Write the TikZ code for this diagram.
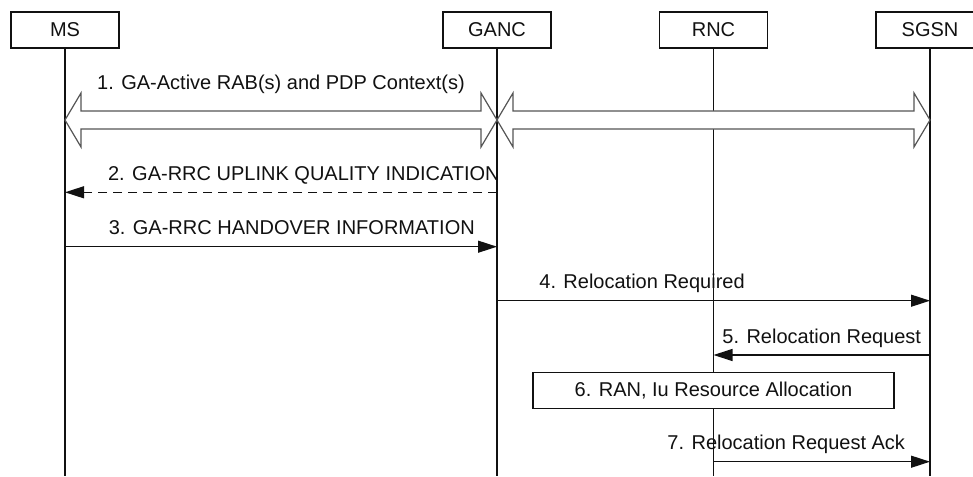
\documentclass[tikz,border=0pt]{standalone}
\usepackage{fontspec}
\setmainfont{Liberation Sans}
\setsansfont{Liberation Sans}
\usetikzlibrary{arrows.meta,positioning,calc}
\definecolor{seqInk}{HTML}{111111}
\definecolor{seqLine}{HTML}{555555}
\tikzset{
    >={Triangle[length=9.5pt,width=6pt]},
    every picture/.style={font=\sffamily},
    entity/.style={draw=seqInk, line width=0.6pt, fill=white, minimum width=54pt, minimum height=18pt, inner sep=0pt, text=seqInk},
    procbox/.style={draw=seqInk, line width=0.6pt, fill=white, minimum width=180.5pt, minimum height=18pt, inner sep=0pt, text=seqInk},
    lifeline/.style={line width=0.6pt, draw=seqInk},
    msgarrow/.style={->, line width=0.6pt, draw=seqInk},
    replyarrow/.style={->, line width=0.6pt, draw=seqInk, dash pattern=on 4.5pt off 3pt},
    bigarrow/.style={draw=seqLine, line width=0.6pt, fill=white, line join=miter},
    msglabel/.style={anchor=base, inner sep=0pt, yshift=6pt, text=seqInk}
}

\begin{document}
\begin{tikzpicture}[x=0.5pt, y=-0.5pt, font=\fontsize{10}{12}\selectfont]
\clip (0,0) rectangle (973,476);
% entities and lifelines
\node[entity] (ms) at (65,30) {MS};
\node[entity] (ganc) at (497,30) {GANC};
\node[entity] (rnc) at (713.5,30) {RNC};
\node[entity] (sgsn) at (930,30) {SGSN};
\coordinate (bottom) at (0,476);
\foreach \e in {ms,ganc,rnc,sgsn}
    \draw[lifeline] (\e.south) -- (\e.south |- bottom);
% message rows
\coordinate (y1) at (0,120);
\coordinate (y2) at (0,192.3);
\coordinate (y3) at (0,246.7);
\coordinate (y4) at (0,300.7);
\coordinate (y5) at (0,355);
\coordinate (y6) at (0,390.3);
\coordinate (y7) at (0,461.7);
\coordinate (ms1) at (ms |- y1);
\coordinate (ganc1) at (ganc |- y1);
\coordinate (sgsn1) at (sgsn |- y1);
% 1: bearers
\draw[bigarrow] (ms1) -- ++(16,-27) -- ++(0,18) -- ($(ganc1)+(-16,-9)$) -- ++(0,-18) -- (ganc1)
    -- ++(-16,27) -- ++(0,-18) -- ($(ms1)+(16,9)$) -- ++(0,18) -- cycle;
\draw[bigarrow] (ganc1) -- ++(16,-27) -- ++(0,18) -- ($(sgsn1)+(-16,-9)$) -- ++(0,-18) -- (sgsn1)
    -- ++(-16,27) -- ++(0,-18) -- ($(ganc1)+(16,9)$) -- ++(0,18) -- cycle;
\node[msglabel, yshift=9pt] (lbl1) at ($(ms1)!.5!(ganc1)$) {1. GA-Active RAB(s) and PDP Context(s)};
% 2-3
\draw[replyarrow] (ganc |- y2) -- node[msglabel, pos=.447] (lbl2) {2. GA-RRC UPLINK QUALITY INDICATION} (ms |- y2);
\draw[msgarrow] (ms |- y3) -- node[msglabel, pos=.525] (lbl3) {3. GA-RRC HANDOVER INFORMATION} (ganc |- y3);
% 4-7
\draw[msgarrow] (ganc |- y4) -- node[msglabel, pos=.335] (lbl4) {4. Relocation Required} (sgsn |- y4);
\draw[msgarrow] (sgsn |- y5) -- node[msglabel, pos=.5] (lbl5) {5. Relocation Request} (rnc |- y5);
\node[procbox] (alloc) at (rnc |- y6) {6. RAN, Iu Resource Allocation};
\draw[msgarrow] (rnc |- y7) -- node[msglabel, pos=.336] (lbl7) {7. Relocation Request Ack} (sgsn |- y7);
\end{tikzpicture}
\end{document}
